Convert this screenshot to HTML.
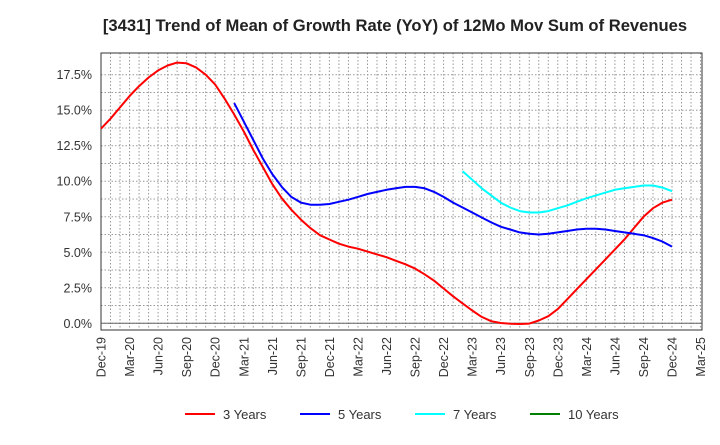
<!DOCTYPE html>
<html><head><meta charset="utf-8"><style>
body{margin:0;background:#fff;font-family:"Liberation Sans",sans-serif}
svg text{font-family:"Liberation Sans",sans-serif}
</style></head><body>
<svg id="c" width="720" height="440" xmlns="http://www.w3.org/2000/svg">
<text x="395" y="31" text-anchor="middle" font-size="16.6" font-weight="bold" fill="#222">[3431]  Trend of Mean of Growth Rate (YoY) of 12Mo Mov Sum of Revenues</text>
<g id="grid"></g><g id="axes"></g><g id="series"></g><g id="legend"></g>
</svg>
<script>
const xLabels=["Dec-19","Mar-20","Jun-20","Sep-20","Dec-20","Mar-21","Jun-21","Sep-21","Dec-21","Mar-22","Jun-22","Sep-22","Dec-22","Mar-23","Jun-23","Sep-23","Dec-23","Mar-24","Jun-24","Sep-24","Dec-24","Mar-25"];
const yTicks=[0,2.5,5,7.5,10,12.5,15,17.5];
const red=[13.7,14.4,15.2,16.0,16.7,17.3,17.8,18.15,18.35,18.3,18.0,17.5,16.8,15.8,14.7,13.5,12.2,11.0,9.8,8.8,8.0,7.3,6.7,6.2,5.9,5.6,5.4,5.25,5.05,4.85,4.65,4.4,4.15,3.85,3.45,3.0,2.45,1.9,1.4,0.9,0.45,0.15,0.02,-0.03,-0.05,-0.02,0.2,0.5,1.0,1.7,2.4,3.1,3.8,4.5,5.2,5.9,6.7,7.5,8.1,8.5,8.7];
const blueStart=14;
const blue=[15.5,14.2,12.9,11.6,10.5,9.6,8.9,8.5,8.35,8.35,8.4,8.55,8.7,8.9,9.1,9.25,9.4,9.5,9.6,9.6,9.5,9.25,8.9,8.5,8.15,7.8,7.45,7.1,6.8,6.6,6.4,6.3,6.25,6.3,6.4,6.5,6.6,6.65,6.65,6.6,6.5,6.4,6.3,6.2,6.0,5.75,5.4];
const cyanStart=38;
const cyan=[10.7,10.1,9.5,9.0,8.5,8.15,7.9,7.8,7.8,7.9,8.1,8.3,8.55,8.8,9.0,9.2,9.4,9.5,9.6,9.7,9.7,9.55,9.3];
const green=[];
const L=101,R=702,T=53,B=330;
const X=m=>101+m*28.55/3;
const Y=v=>323.3-v*(248.6/17.5);
const NS="http://www.w3.org/2000/svg";
function mk(p,t,a){const e=document.createElementNS(NS,t);for(const k in a)e.setAttribute(k,a[k]);p.appendChild(e);return e;}
const g=document.getElementById('grid'),ax=document.getElementById('axes'),s=document.getElementById('series'),lg=document.getElementById('legend');
for(let m=0;m<=63;m++){const l=mk(g,'line',{x1:X(m),x2:X(m),y1:T,y2:B,stroke:'#999','stroke-dasharray':'1.5,2','stroke-width':1});

}
for(let v=0;v<=17.5;v+=1.25){const l=mk(g,'line',{x1:L,x2:R,y1:Y(v),y2:Y(v),stroke:'#999','stroke-dasharray':'1.5,2','stroke-width':1});

}
const fr=mk(ax,'rect',{x:L,y:T,width:R-L,height:B-T,fill:'none',stroke:'#333','stroke-width':1});


const zl=mk(ax,'line',{x1:L,x2:R,y1:Y(0),y2:Y(0),stroke:'#666','stroke-width':1});


yTicks.forEach(v=>{const t=mk(ax,'text',{x:92,y:Y(v)+4.5,'text-anchor':'end','font-size':12.5,fill:'#333'});t.textContent=v.toFixed(1)+'%';

});
xLabels.forEach((lab,i)=>{const x=X(i*3);const t=mk(ax,'text',{x:0,y:0,'text-anchor':'end','font-size':12.5,fill:'#333',transform:`translate(${x+4.5},337) rotate(-90)`});t.textContent=lab;

});
function line(arr,start,col,name){if(!arr.length)return;const d=arr.map((v,i)=>(i?'L':'M')+X(start+i).toFixed(1)+','+Y(v).toFixed(1)).join('');
const p=mk(s,'path',{d:d,fill:'none',stroke:col,'stroke-width':2,'stroke-linejoin':'round'});

}
line(red,0,'#ff0000','series-3-years');
line(blue,blueStart,'#0000ff','series-5-years');
line(cyan,cyanStart,'#00ffff','series-7-years');
line(green,0,'#008000','series-10-years');
const leg=[["3 Years","#ff0000",185],["5 Years","#0000ff",300],["7 Years","#00ffff",415],["10 Years","#008000",530]];
leg.forEach(([n,c,x])=>{const gg=mk(lg,'g',{});


mk(gg,'line',{x1:x,x2:x+30,y1:414,y2:414,stroke:c,'stroke-width':2});
const t=mk(gg,'text',{x:x+38,y:419,'font-size':13,fill:'#333'});t.textContent=n;});
</script>
</body></html>
